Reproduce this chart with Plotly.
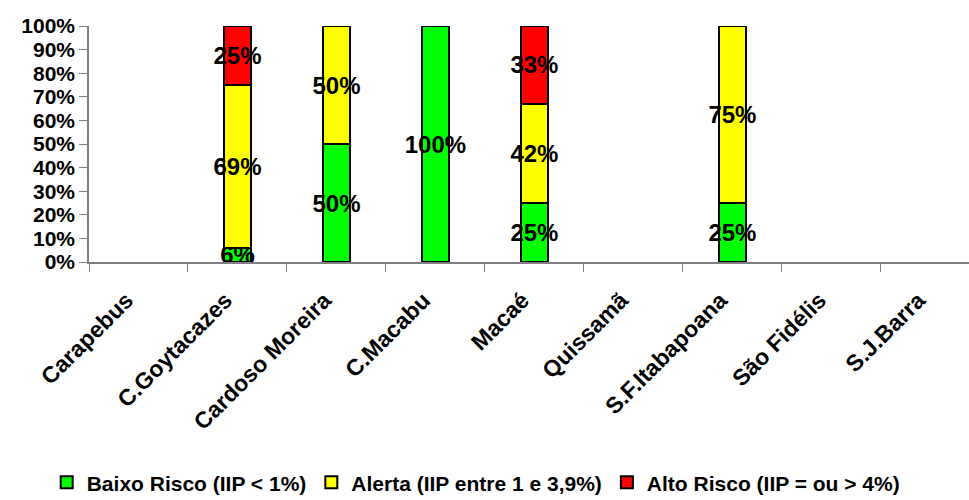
import plotly.graph_objects as go

categories = ["Carapebus", "C.Goytacazes", "Cardoso Moreira", "C.Macabu", "Macaé",
              "Quissamã", "S.F.Itabapoana", "São Fidélis", "S.J.Barra"]
baixo = [None, 6, 50, 100, 25, None, 25, None, None]
alerta = [None, 69, 50, None, 42, None, 75, None, None]
alto = [None, 25, None, None, 33, None, None, None, None]

series = [
    ("Baixo Risco (IIP < 1%)", baixo, "#00FF00"),
    ("Alerta (IIP entre 1 e 3,9%)", alerta, "#FFFF00"),
    ("Alto Risco (IIP = ou > 4%)", alto, "#FF0000"),
]

FONT = "Liberation Sans, Arial, sans-serif"

fig = go.Figure()
for name, vals, color in series:
    fig.add_trace(go.Bar(
        x=categories, y=vals, name=name,
        marker=dict(color=color, line=dict(color="black", width=2)),
        width=0.28,
        text=[f"{v}%" if v else "" for v in vals],
        textposition="inside", insidetextanchor="middle",
        constraintext="none", textangle=0,
        insidetextfont=dict(family=FONT, size=24, color="black", weight="bold"),
    ))

fig.update_layout(
    barmode="stack",
    width=969, height=500,
    margin=dict(l=89, r=0, t=26, b=238, autoexpand=False),
    plot_bgcolor="white", paper_bgcolor="white",
    font=dict(family=FONT, color="black"),
    showlegend=True,
    legend=dict(orientation="h", x=0.44, xanchor="center", y=-0.935, yanchor="middle",
                font=dict(family=FONT, size=21, color="black", weight="bold"),
                itemwidth=30, traceorder="normal"),
    xaxis=dict(range=[-0.5, 8.39], showline=True, linecolor="#808080", linewidth=1.5,
               ticks="outside", tickson="boundaries", ticklen=8, tickcolor="#808080",
               tickangle=-45, showgrid=False, automargin=False,
               ticklabelstandoff=14, ticklabelshift=-12,
               tickfont=dict(family=FONT, size=23, color="black", weight="bold")),
    yaxis=dict(range=[0, 100], dtick=10, ticksuffix="%", showline=True, linecolor="#808080",
               linewidth=1.5, ticks="outside", ticklen=8, tickcolor="#808080", showgrid=False,
               zeroline=False, automargin=False,
               tickfont=dict(family=FONT, size=21, color="black", weight="bold")),
)

fig.write_html("out.html")
